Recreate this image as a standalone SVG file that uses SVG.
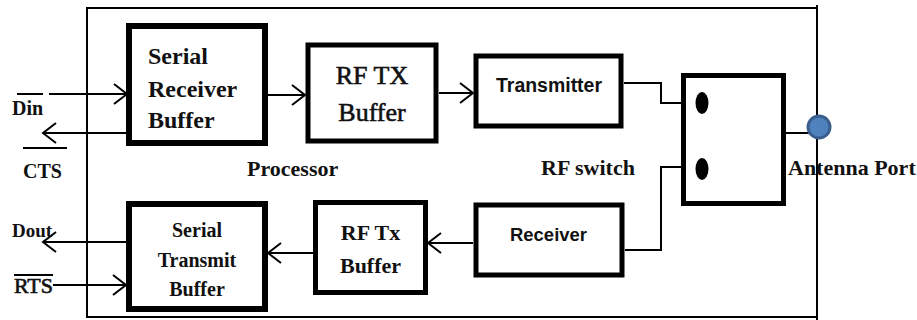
<svg xmlns="http://www.w3.org/2000/svg" width="917" height="320" viewBox="0 0 917 320">
  <style>
    .frame { fill: none; stroke: #000; stroke-width: 2; }
    .box { fill: #fff; stroke: #000; stroke-width: 5; }
    .box-thick { fill: #fff; stroke: #000; stroke-width: 6; }
    .wire { fill: none; stroke: #000; stroke-width: 2; }
    .arrow { fill: none; stroke: #000; stroke-width: 2; marker-end: url(#chev); }
    .serif { font-family: "Liberation Serif", "Times New Roman", serif; fill: #111; }
    .sans { font-family: "Liberation Sans", Arial, sans-serif; font-weight: bold; fill: #111; }
    .b { font-weight: bold; }
    .heavy { stroke: #111; stroke-width: 0.6; }
  </style>
  <defs>
    <marker id="chev" viewBox="-15 -11 17 22" refX="0" refY="0" markerWidth="17" markerHeight="22" markerUnits="userSpaceOnUse" orient="auto">
      <path d="M-13,-10 L0,0 L-13,10" fill="none" stroke="#000" stroke-width="2"/>
    </marker>
  </defs>
  <rect width="917" height="320" fill="#fff"/>

  <!-- module outline -->
  <rect class="frame" x="87" y="8" width="730" height="309"/>
  <line class="frame" x1="817" y1="5" x2="817" y2="320"/>

  <g id="connectors">
    <line class="arrow" x1="49" y1="94" x2="127" y2="94"/>
    <line class="arrow" x1="126" y1="133" x2="43" y2="133"/>
    <line class="arrow" x1="268" y1="95" x2="305" y2="95"/>
    <line class="arrow" x1="439" y1="93" x2="473" y2="93"/>
    <polyline class="wire" points="624,83 661,83 661,103 702,103"/>
    <polyline class="wire" points="625,250 661,250 661,167 702,167"/>
    <line class="wire" x1="726" y1="133" x2="810" y2="133"/>
    <line class="arrow" x1="473" y1="243" x2="428" y2="243"/>
    <line class="arrow" x1="313" y1="253" x2="268" y2="253"/>
    <line class="arrow" x1="126" y1="242" x2="43" y2="242"/>
    <line class="arrow" x1="53" y1="285" x2="126" y2="285"/>
  </g>

  <g id="pin-labels">
    <line class="wire" x1="17" y1="94" x2="43" y2="94"/>
    <text class="serif b" x="12" y="115" font-size="20">Din</text>
    <line class="wire" x1="23" y1="148" x2="67" y2="148"/>
    <text class="serif b" x="23" y="178" font-size="20">CTS</text>
    <text class="serif b" x="12" y="237" font-size="19">Dout</text>
    <line class="wire" x1="14" y1="275" x2="53" y2="275"/>
    <text class="serif heavy" x="14" y="293" font-size="21" textLength="39" lengthAdjust="spacingAndGlyphs">RTS</text>
  </g>

  <g id="serial-receiver-buffer">
    <rect class="box-thick" x="129" y="26" width="136" height="117"/>
    <text class="serif b" x="148" y="64" font-size="24">Serial</text>
    <text class="serif b" x="148" y="97" font-size="24">Receiver</text>
    <text class="serif b" x="148" y="128" font-size="24">Buffer</text>
  </g>

  <g id="rf-tx-buffer">
    <rect class="box" x="308" y="45" width="128" height="96"/>
    <text class="serif heavy" x="372" y="84" font-size="26" text-anchor="middle">RF TX</text>
    <text class="serif heavy" x="372" y="121" font-size="26" text-anchor="middle">Buffer</text>
  </g>

  <g id="transmitter">
    <rect class="box" x="476" y="56" width="145" height="70"/>
    <text class="sans" x="549" y="92" font-size="20" text-anchor="middle" textLength="106" lengthAdjust="spacingAndGlyphs">Transmitter</text>
  </g>

  <g id="rf-switch">
    <rect class="box" x="683.5" y="75.5" width="100" height="128"/>
    <ellipse cx="702" cy="103" rx="6.5" ry="11" fill="#000"/>
    <ellipse cx="702" cy="169" rx="6.5" ry="11" fill="#000"/>
  </g>

  <g id="antenna-port">
    <circle cx="819" cy="127" r="11" fill="#4f81bd" stroke="#3a5f8e" stroke-width="3"/>
    <text class="serif b" x="788" y="175" font-size="22">Antenna Port</text>
  </g>

  <g id="receiver">
    <rect class="box" x="476" y="205" width="146" height="70"/>
    <text class="sans" x="548.5" y="241" font-size="19" text-anchor="middle" textLength="77" lengthAdjust="spacingAndGlyphs">Receiver</text>
  </g>

  <g id="rf-tx-buffer-rx">
    <rect class="box" x="315.5" y="202.5" width="110" height="90"/>
    <text class="serif b" x="370.5" y="240" font-size="22" text-anchor="middle">RF Tx</text>
    <text class="serif b" x="370.5" y="273" font-size="22" text-anchor="middle">Buffer</text>
  </g>

  <g id="serial-transmit-buffer">
    <rect class="box-thick" x="129" y="204" width="136" height="105"/>
    <text class="serif b" x="197" y="237" font-size="20" text-anchor="middle">Serial</text>
    <text class="serif b" x="197" y="267" font-size="20" text-anchor="middle">Transmit</text>
    <text class="serif b" x="197" y="296" font-size="20" text-anchor="middle">Buffer</text>
  </g>

  <g id="section-labels">
    <text class="serif b" x="247" y="176" font-size="22">Processor</text>
    <text class="serif b" x="541" y="175" font-size="22">RF switch</text>
  </g>
</svg>
